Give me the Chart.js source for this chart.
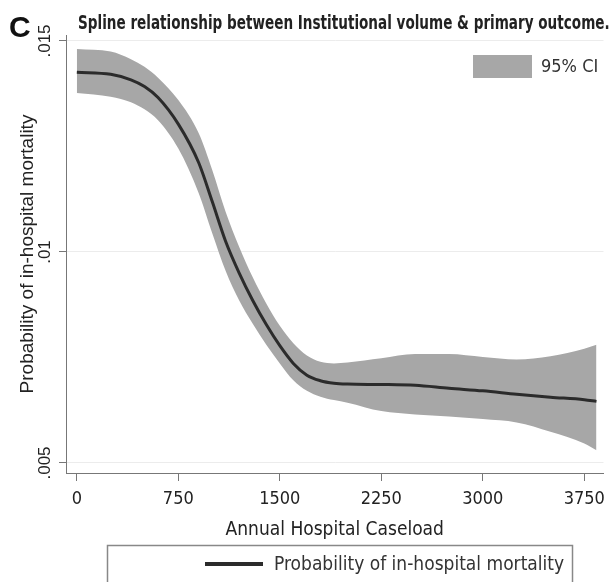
<!DOCTYPE html>
<html>
<head>
<meta charset="utf-8">
<script src="https://cdn.jsdelivr.net/npm/chart.js@4.4.1/dist/chart.umd.min.js"></script>
<style>
  html, body { margin: 0; padding: 0; background: #fff; }
  #wrap { position: relative; width: 613px; height: 582px; overflow: hidden; }
  #panel { position: absolute; left: 9px; top: 10px; font: bold 30px "Liberation Sans Narrow", "Liberation Sans", Arial, sans-serif; color: #111; }
  #title { position: absolute; left: 78px; top: 11px; font: bold 19px "Liberation Sans Narrow", "DejaVu Sans Condensed", sans-serif; color: #222; white-space: nowrap; transform-origin: 0 0; }
</style>
</head>
<body>
<div id="wrap">
  <canvas id="chart" width="613" height="582"></canvas>
  <div id="panel">C</div>
  <div id="title">Spline relationship between Institutional volume &amp; primary outcome.</div>
</div>
<script>
// values
const caseload = [0, 250, 400, 500, 600, 750, 900, 1000, 1100, 1200, 1300, 1400, 1500, 1600, 1700, 1800, 1900, 2000, 2250, 2500, 2750, 3000, 3250, 3500, 3750, 3840];
const probMid = [0.01426, 0.01421, 0.01408, 0.01392, 0.01366, 0.01303, 0.01212, 0.01120, 0.01025, 0.00950, 0.00885, 0.00828, 0.00778, 0.00736, 0.00708, 0.00695, 0.00689, 0.00687, 0.00686, 0.00684, 0.00677, 0.00671, 0.00663, 0.00656, 0.00650, 0.00646];
const ciUpper = [0.01481, 0.01475, 0.01457, 0.01439, 0.01413, 0.01360, 0.01282, 0.01195, 0.01095, 0.01012, 0.00940, 0.00878, 0.00825, 0.00784, 0.00755, 0.00740, 0.00736, 0.00738, 0.00748, 0.00758, 0.00758, 0.00751, 0.00745, 0.00753, 0.00771, 0.00780];
const ciLower = [0.01377, 0.01368, 0.01355, 0.01338, 0.01312, 0.01245, 0.01140, 0.01045, 0.00955, 0.00885, 0.00830, 0.00780, 0.00736, 0.00696, 0.00671, 0.00657, 0.00649, 0.00643, 0.00623, 0.00615, 0.00610, 0.00604, 0.00596, 0.00574, 0.00546, 0.00530];

const xTicks = [0, 750, 1500, 2250, 3000, 3750];
const yTicks = [0.005, 0.01, 0.015];
const yTickLabels = ['.005', '.01', '.015'];

const NARROW = '"Liberation Sans Narrow", "DejaVu Sans Condensed", sans-serif';
const REGULAR = '"Liberation Sans", Arial, sans-serif';

// stretch the title so it ends at the right edge like the figure
const titleEl = document.getElementById('title');
titleEl.style.transform = 'scaleX(' + (532 / titleEl.offsetWidth) + ')';

const toPoints = arr => arr.map((v, i) => ({ x: caseload[i], y: v }));

// draws the two Stata-style legends (CI key inside the plot, boxed key below)
const stataLegends = {
  id: 'stataLegends',
  afterDraw(chart) {
    const ctx = chart.ctx;
    const band = chart.data.datasets[0];
    const line = chart.data.datasets[2];
    ctx.save();
    // 95% CI key
    ctx.fillStyle = band.backgroundColor;
    ctx.fillRect(473, 55, 59, 23);
    ctx.fillStyle = '#333';
    ctx.font = '18px ' + NARROW;
    ctx.textBaseline = 'middle';
    ctx.fillText('95% CI', 541, 67);
    // bottom legend box
    ctx.strokeStyle = '#888';
    ctx.lineWidth = 1.5;
    ctx.strokeRect(107.5, 545.5, 465, 50);
    ctx.strokeStyle = line.borderColor;
    ctx.lineWidth = 4;
    ctx.beginPath();
    ctx.moveTo(205, 564);
    ctx.lineTo(263, 564);
    ctx.stroke();
    ctx.fillStyle = '#333';
    ctx.font = '19px ' + NARROW;
    ctx.fillText(line.label, 274, 565);
    ctx.restore();
  }
};

new Chart(document.getElementById('chart'), {
  type: 'line',
  data: {
    datasets: [
      {
        label: '95% CI',
        data: toPoints(ciUpper),
        borderWidth: 0,
        backgroundColor: '#a7a7a7',
        fill: '+1',
        pointRadius: 0,
        order: 2,
        cubicInterpolationMode: 'monotone'
      },
      {
        label: 'lower',
        data: toPoints(ciLower),
        borderWidth: 0,
        fill: false,
        pointRadius: 0,
        order: 3,
        cubicInterpolationMode: 'monotone'
      },
      {
        label: 'Probability of in-hospital mortality',
        data: toPoints(probMid),
        borderColor: '#2b2b2b',
        borderWidth: 3,
        fill: false,
        pointRadius: 0,
        order: 0,
        cubicInterpolationMode: 'monotone'
      }
    ]
  },
  options: {
    responsive: false,
    animation: false,
    layout: { padding: { top: 35, right: 3, bottom: 0, left: 0 } },
    plugins: {
      legend: { display: false },
      tooltip: { enabled: false }
    },
    scales: {
      x: {
        type: 'linear',
        min: -80,
        max: 3892,
        afterBuildTicks: s => { s.ticks = xTicks.map(v => ({ value: v })); },
        afterFit: s => { s.height = 109; },
        border: { display: true, color: '#777', width: 1 },
        grid: { drawOnChartArea: false, drawTicks: true, tickLength: 8, tickColor: '#777' },
        ticks: { color: '#222', font: { family: NARROW, size: 18 }, padding: 8, maxRotation: 0, callback: v => String(v) },
        title: {
          display: true,
          text: 'Annual Hospital Caseload',
          color: '#222',
          font: { family: NARROW, size: 19 },
          padding: { top: 0, bottom: 41 }
        }
      },
      y: {
        min: 0.004763,
        max: 0.015142,
        afterBuildTicks: s => { s.ticks = yTicks.map(v => ({ value: v })); },
        afterFit: s => { s.width = 66; },
        border: { display: true, color: '#777', width: 1 },
        grid: { color: '#ececec', lineWidth: 1, drawTicks: true, tickLength: 7, tickColor: '#777' },
        ticks: {
          color: '#222',
          font: { family: REGULAR, size: 17 },
          minRotation: 90,
          maxRotation: 90,
          crossAlign: 'center',
          padding: -3,
          callback: v => yTickLabels[yTicks.indexOf(v)]
        },
        title: {
          display: true,
          text: 'Probability of in-hospital mortality',
          color: '#222',
          font: { family: REGULAR, size: 19 },
          padding: { top: 16, bottom: 0 }
        }
      }
    }
  },
  plugins: [stataLegends]
});
</script>
</body>
</html>
